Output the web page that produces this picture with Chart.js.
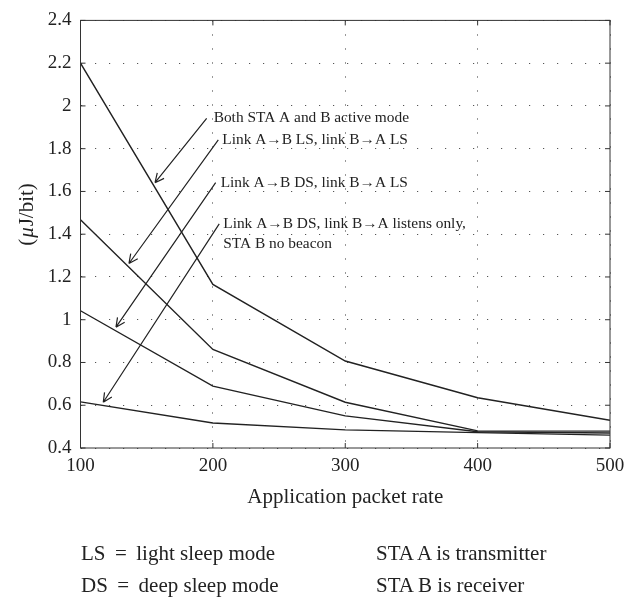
<!DOCTYPE html>
<html lang="en">
<head>
  <meta charset="UTF-8" />
  <title>Energy per bit vs application packet rate</title>
  <script src="https://cdn.jsdelivr.net/npm/chart.js"></script>
  <style>
    body { margin: 0; background: #fff; }
    #wrap { position: relative; width: 635px; height: 597px; }
    #wrap canvas { position: absolute; left: 0; top: 0; }
    .note { position: absolute; font: 21px "Liberation Serif", "DejaVu Serif", serif; color: #222; line-height: 24px; white-space: pre; }
  </style>
</head>
<body>
  <div id="wrap">
    <canvas id="chart" width="635" height="597"></canvas>
    <div class="note" style="left:81px; top:541px;">LS &thinsp;=&thinsp; light sleep mode</div>
    <div class="note" style="left:81px; top:573px;">DS &thinsp;=&thinsp; deep sleep mode</div>
    <div class="note" style="left:376px; top:541px;">STA A is transmitter</div>
    <div class="note" style="left:376px; top:573px;">STA B is receiver</div>
  </div>

  <script>
    // packet rates on the x axis
    const rates = [100, 200, 300, 400, 500];

    // energy per bit (uJ/bit) for each operating mode
    const activeMode = [2.2, 1.165, 0.807, 0.635, 0.53];
    const lsLs = [1.468, 0.861, 0.614, 0.48, 0.479];
    const dsLs = [1.042, 0.689, 0.55, 0.476, 0.47];
    const dsListen = [0.616, 0.517, 0.485, 0.472, 0.46];

    const xTicks = [100, 200, 300, 400, 500];
    const yTicks = [0.4, 0.6, 0.8, 1, 1.2, 1.4, 1.6, 1.8, 2, 2.2, 2.4];

    // callout labels: arrow tail -> tip in data units
    const callouts = [
      { lines: ['Both STA A and B active mode'], tail: [195.3, 1.942], tip: [156.3, 1.641], dx: 7 },
      { lines: ['Link A\u2192B LS, link B\u2192A LS'], tail: [204.1, 1.841], tip: [136.6, 1.263], dx: 4 },
      { lines: ['Link A\u2192B DS, link B\u2192A LS'], tail: [202.1, 1.641], tip: [126.8, 0.965], dx: 5 },
      { lines: ['Link A\u2192B DS, link B\u2192A listens only,', 'STA B no beacon'], tail: [204.8, 1.448], tip: [117.2, 0.614], dx: 4 }
    ];

    const serif = '"Liberation Serif", "DejaVu Serif", serif';
    const ink = '#222';

    const toPoints = ys => rates.map((x, i) => ({ x, y: ys[i] }));
    const series = [activeMode, lsLs, dsLs, dsListen].map(ys => ({
      data: toPoints(ys),
      borderColor: ink,
      borderWidth: 1.4,
      pointRadius: 0,
      tension: 0,
      fill: false
    }));

    // frame, inward tick marks, y title and the arrow callouts
    const decorations = {
      id: 'decorations',
      afterDraw(chart) {
        const { ctx, chartArea: a, scales: { x, y } } = chart;
        ctx.save();
        ctx.strokeStyle = '#333';
        ctx.lineWidth = 1;
        ctx.strokeRect(a.left, a.top, a.right - a.left, a.bottom - a.top);

        ctx.beginPath();
        xTicks.forEach(v => {
          const px = x.getPixelForValue(v);
          ctx.moveTo(px, a.bottom); ctx.lineTo(px, a.bottom - 5);
          ctx.moveTo(px, a.top); ctx.lineTo(px, a.top + 5);
        });
        yTicks.forEach(v => {
          const py = y.getPixelForValue(v);
          ctx.moveTo(a.left, py); ctx.lineTo(a.left + 5, py);
          ctx.moveTo(a.right, py); ctx.lineTo(a.right - 5, py);
        });
        ctx.stroke();

        // y axis title with italic mu
        const parts = [['(', ''], ['\u03bc', 'italic '], ['J/bit)', '']];
        ctx.translate(27, 214);
        ctx.rotate(-Math.PI / 2);
        ctx.fillStyle = ink;
        ctx.textBaseline = 'middle';
        let total = 0;
        parts.forEach(([t, s]) => { ctx.font = s + '21px ' + serif; total += ctx.measureText(t).width + 1; });
        let cx = -total / 2;
        parts.forEach(([t, s]) => {
          ctx.font = s + '21px ' + serif;
          ctx.fillText(t, cx, 0);
          cx += ctx.measureText(t).width + 1;
        });
        ctx.restore();

        ctx.save();
        ctx.strokeStyle = ink;
        ctx.fillStyle = ink;
        ctx.lineWidth = 1.2;
        ctx.font = '15.4px ' + serif;
        ctx.textBaseline = 'middle';
        callouts.forEach(c => {
          const tx = x.getPixelForValue(c.tail[0]), ty = y.getPixelForValue(c.tail[1]);
          const hx = x.getPixelForValue(c.tip[0]), hy = y.getPixelForValue(c.tip[1]);
          const ang = Math.atan2(ty - hy, tx - hx);
          ctx.beginPath();
          ctx.moveTo(tx, ty); ctx.lineTo(hx, hy);
          [0.45, -0.45].forEach(d => {
            ctx.moveTo(hx, hy);
            ctx.lineTo(hx + 10 * Math.cos(ang + d), hy + 10 * Math.sin(ang + d));
          });
          ctx.stroke();
          c.lines.forEach((t, i) => ctx.fillText(t, tx + c.dx, ty + i * 20));
        });
        ctx.restore();
      }
    };

    new Chart(document.getElementById('chart'), {
      type: 'line',
      data: { datasets: series },
      options: {
        responsive: false,
        animation: false,
        events: [],
        layout: { padding: { top: 16, right: 25, bottom: 87, left: 0 } },
        plugins: { legend: { display: false }, tooltip: { enabled: false } },
        scales: {
          x: {
            type: 'linear',
            min: 100,
            max: 500,
            afterBuildTicks: s => { s.ticks = xTicks.map(value => ({ value })); },
            afterFit: s => { s.height = 62; },
            ticks: { color: ink, padding: 7, font: { family: serif, size: 19 } },
            grid: { color: '#555', lineWidth: 1, drawTicks: false },
            border: { display: false, dash: [1.2, 12.8] },
            title: { display: true, text: 'Application packet rate', color: ink, padding: { top: 0, bottom: 0 }, font: { family: serif, size: 21 } }
          },
          y: {
            min: 0.4,
            max: 2.4,
            afterBuildTicks: s => { s.ticks = yTicks.map(value => ({ value })); },
            afterFit: s => { s.width = 80.5; },
            ticks: { color: ink, padding: 9, font: { family: serif, size: 19 }, callback: v => String(v) },
            grid: { color: '#555', lineWidth: 1, drawTicks: false },
            border: { display: false, dash: [1.2, 12.8] }
          }
        }
      },
      plugins: [decorations]
    });
  </script>
</body>
</html>
